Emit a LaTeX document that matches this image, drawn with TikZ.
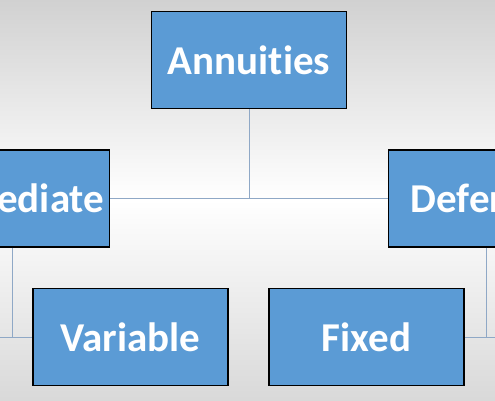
\documentclass[tikz,border=0pt]{standalone}
\usepackage{fontspec}
\setmainfont{Carlito}[RawFeature=-liga]
\begin{document}
\begin{tikzpicture}[x=1pt,y=1pt,
  orgbox/.style={draw=black, line width=1.8pt, fill=boxblue, minimum width=195pt, minimum height=97pt, inner sep=0pt, text=white, font=\fontsize{41}{41}\selectfont\bfseries},
  link/.style={draw=linkblue, line width=0.9pt}]
\definecolor{boxblue}{HTML}{5B9BD5}
\definecolor{linkblue}{HTML}{8FA8C6}
\useasboundingbox (0,0) rectangle (495,400);
\clip (0,0) rectangle (495,400);
\shade[top color=black!18, bottom color=black!15, middle color=white] (0,0) rectangle (495,400);
\node[orgbox] (ann) at (249,340) {Annuities};
\node[orgbox] (imm) at (12,201.5) {Immediate};
\node[orgbox] (def) at (486,201.5) {Deferred};
\node[orgbox] (var) at (130.5,63) {Variable};
\node[orgbox] (fix) at (366.5,63) {Fixed};
\coordinate (mid) at (ann.south |- imm.east);
\coordinate (lefte) at (-5,63);
\coordinate (righte) at (500,63);
\draw[link] (ann.south) -- (mid);
\draw[link] (imm.east) -- (def.west);
\draw[link] (imm.south) -- (imm.south |- var.west);
\draw[link] (lefte) -- (var.west);
\draw[link] (def.south) -- (def.south |- fix.east);
\draw[link] (fix.east) -- (righte);
\end{tikzpicture}
\end{document}
